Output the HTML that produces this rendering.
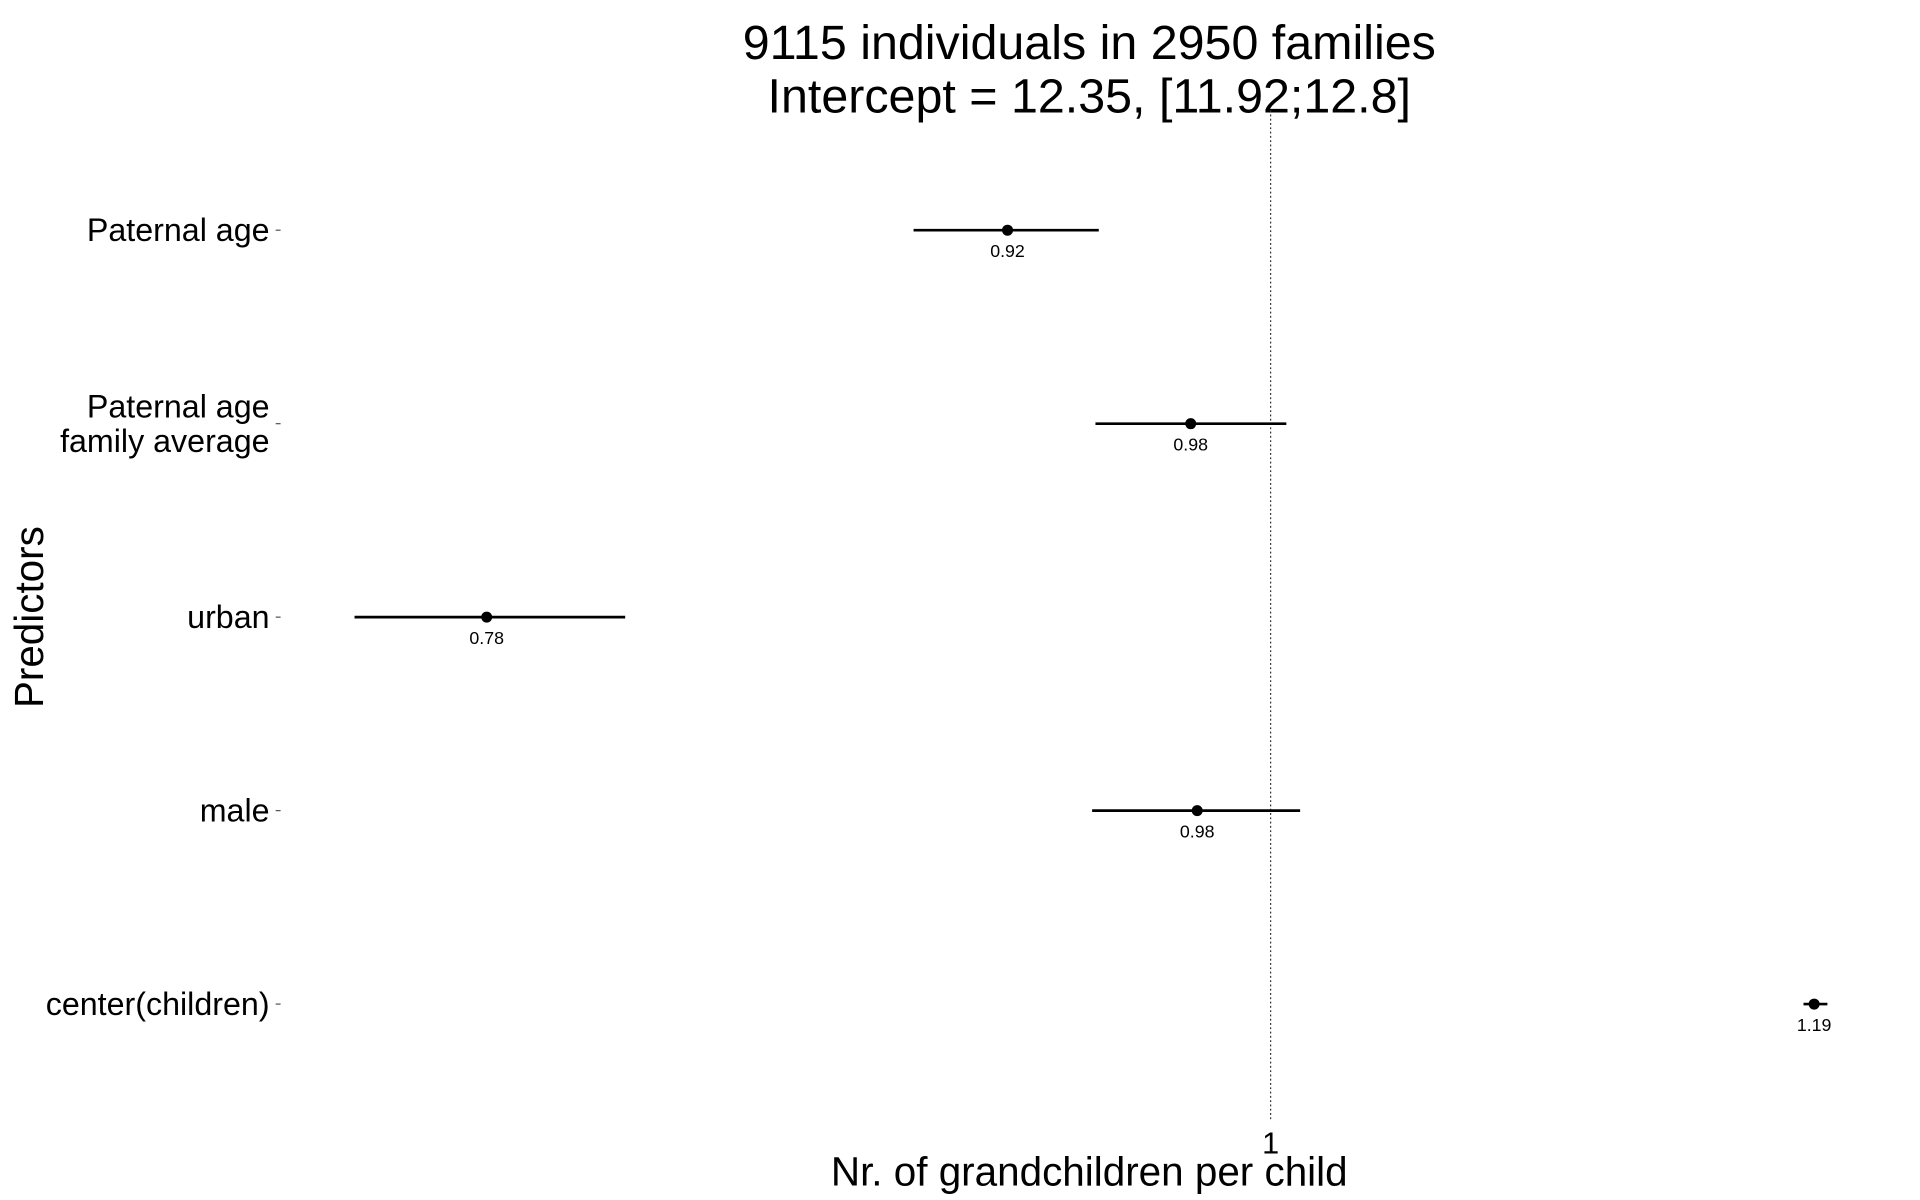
<!DOCTYPE html>
<html><head><meta charset="utf-8"><style>
html,body{margin:0;padding:0;background:#fff;}
svg{display:block;font-family:"Liberation Sans",sans-serif;}
</style></head><body>
<svg id="chart" width="1920" height="1200" viewBox="0 0 1567 980" preserveAspectRatio="none">
<text x="889" y="48" font-size="39.5" text-anchor="middle">9115 individuals in 2950 families</text>
<text x="889" y="92" font-size="39.5" text-anchor="middle">Intercept = 12.35, [11.92;12.8]</text>
<text transform="translate(35,504) rotate(-90)" font-size="33" text-anchor="middle">Predictors</text>
<text x="889" y="968" font-size="33" text-anchor="middle">Nr. of grandchildren per child</text>
<g id="marks"></g>
</svg>
<script>
const categories = ["Paternal age", "Paternal age\nfamily average", "urban", "male", "center(children)"];
const estimates = [0.92, 0.975, 0.78, 0.977, 1.188];
const lower = [0.893, 0.946, 0.748, 0.945, 1.184];
const upper = [0.947, 1.005, 0.815, 1.0094, 1.193];
const valueLabels = ["0.92", "0.98", "0.78", "0.98", "1.19"];
const xTicks = [1];
const xTickLabels = ["1"];

const NS = "http://www.w3.org/2000/svg";
const g = document.getElementById("marks");
const xScale = v => 1037 + Math.log(v) * 2575;
const yScale = i => 188 + i * 158;
function mk(tag, attrs) { const e = document.createElementNS(NS, tag); for (const k in attrs) e.setAttribute(k, attrs[k]); g.appendChild(e); return e; }

xTicks.forEach((t, i) => {
  const l = mk("line", {x1: xScale(t), x2: xScale(t), y1: 90, y2: 915, stroke: "#333", "stroke-width": 1, "stroke-dasharray": "1.5,2"});
  
  
  const tx = mk("text", {x: xScale(t), y: 942, "font-size": 25, "text-anchor": "middle"});
  tx.textContent = xTickLabels[i];
  
  
});

categories.forEach((c, i) => {
  const y = yScale(i);
  const lines = c.split("\n");
  const lab = mk("text", {x: 220, "font-size": 26.3, "text-anchor": "end"});
  
  
  lines.forEach((ln, j) => {
    const ts = document.createElementNS(NS, "tspan");
    ts.setAttribute("x", 220);
    ts.setAttribute("y", y + 9 + (j - (lines.length - 1) / 2) * 28);
    ts.textContent = ln;
    lab.appendChild(ts);
  });
  const tk = mk("line", {x1: 225, x2: 229, y1: y, y2: y, stroke: "#555", "stroke-width": 1});
  
  
  const ci = mk("line", {x1: xScale(lower[i]), x2: xScale(upper[i]), y1: y, y2: y, stroke: "#000", "stroke-width": 2.2});
  
  
  const pt = mk("circle", {cx: xScale(estimates[i]), cy: y, r: 4.5, fill: "#000"});
  
  
  const vl = mk("text", {x: xScale(estimates[i]), y: y + 22, "font-size": 14.5, "text-anchor": "middle"});
  vl.textContent = valueLabels[i];
  
  
});
</script>
</body></html>
